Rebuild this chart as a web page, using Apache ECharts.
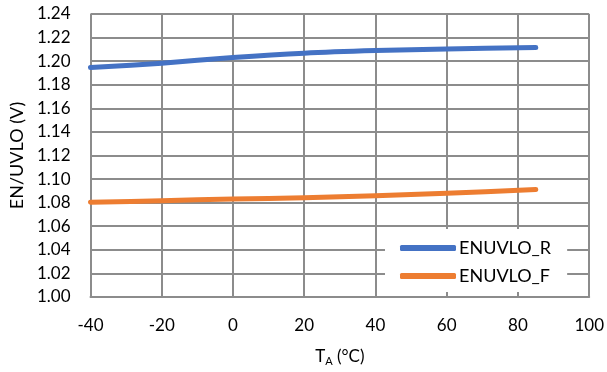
<!DOCTYPE html>
<html>
<head>
<meta charset="utf-8">
<script src="https://cdn.jsdelivr.net/npm/echarts@6/dist/echarts.min.js"></script>
<style>html,body{margin:0;padding:0;background:#fff}#c{width:607px;height:372px}</style>
</head>
<body>
<div id="c"></div>
<script>
const temps = [-40, -20, 0, 20, 40, 60, 85];
const enuvloR = [1.1946, 1.1983, 1.2031, 1.2068, 1.2090, 1.2104, 1.2115];
const enuvloF = [1.0803, 1.0817, 1.0831, 1.0842, 1.0859, 1.0879, 1.0912];
const seriesNames = ['ENUVLO_R', 'ENUVLO_F'];
const xTicks = [-40, -20, 0, 20, 40, 60, 80, 100];
const yTicks = [1.00, 1.02, 1.04, 1.06, 1.08, 1.10, 1.12, 1.14, 1.16, 1.18, 1.20, 1.22, 1.24];

const font = 'Lato, "Open Sans", sans-serif';
const gridColor = '#8c8c8c';
const chart = echarts.init(document.getElementById('c'), null, {renderer: 'canvas'});
const pairs = vals => temps.map((t, i) => [t, vals[i]]);
chart.setOption({
  animation: false,
  backgroundColor: '#fff',
  grid: {left: 90, right: 17, top: 14, bottom: 74, containLabel: false},
  xAxis: {
    type: 'value', min: xTicks[0], max: xTicks[xTicks.length - 1], interval: 20,
    name: 'T{sub|A} (°C)', nameLocation: 'middle', nameGap: 50,
    nameTextStyle: {fontFamily: font, fontSize: 17, color: '#000',
      rich: {sub: {fontFamily: font, fontSize: 11, color: '#000', verticalAlign: 'bottom', padding: [9, 0, 0, 0]}}},
    axisLine: {show: true, lineStyle: {color: gridColor, width: 2}},
    axisTick: {show: false},
    axisLabel: {fontFamily: font, fontSize: 17, color: '#000', margin: 20},
    splitLine: {show: true, lineStyle: {color: gridColor, width: 2}}
  },
  yAxis: {
    type: 'value', min: 1.00, max: 1.24, interval: 0.02,
    name: 'EN/UVLO (V)', nameLocation: 'middle', nameGap: 64,
    nameTextStyle: {fontFamily: font, fontSize: 18, color: '#000'},
    axisLine: {show: true, lineStyle: {color: gridColor, width: 2}},
    axisTick: {show: false},
    axisLabel: {fontFamily: font, fontSize: 17, color: '#000', margin: 20,
      formatter: v => v.toFixed(2)},
    splitLine: {show: true, lineStyle: {color: gridColor, width: 2}}
  },
  legend: {
    orient: 'vertical', left: 385, top: 229,
    backgroundColor: '#fff', padding: [10, 16, 7, 15], itemGap: 10,
    itemWidth: 56, itemHeight: 6, icon: 'roundRect',
    textStyle: {fontFamily: font, fontSize: 18, color: '#000', padding: [0, 0, 0, -2]},
    data: seriesNames
  },
  series: [
    {name: seriesNames[0], type: 'line', smooth: 0.3, showSymbol: false, data: pairs(enuvloR),
      color: '#4472C4', lineStyle: {width: 5, cap: 'round', join: 'round'}},
    {name: seriesNames[1], type: 'line', smooth: 0.3, showSymbol: false, data: pairs(enuvloF),
      color: '#ED7D31', lineStyle: {width: 5, cap: 'round', join: 'round'}}
  ]
});
</script>
</body>
</html>
